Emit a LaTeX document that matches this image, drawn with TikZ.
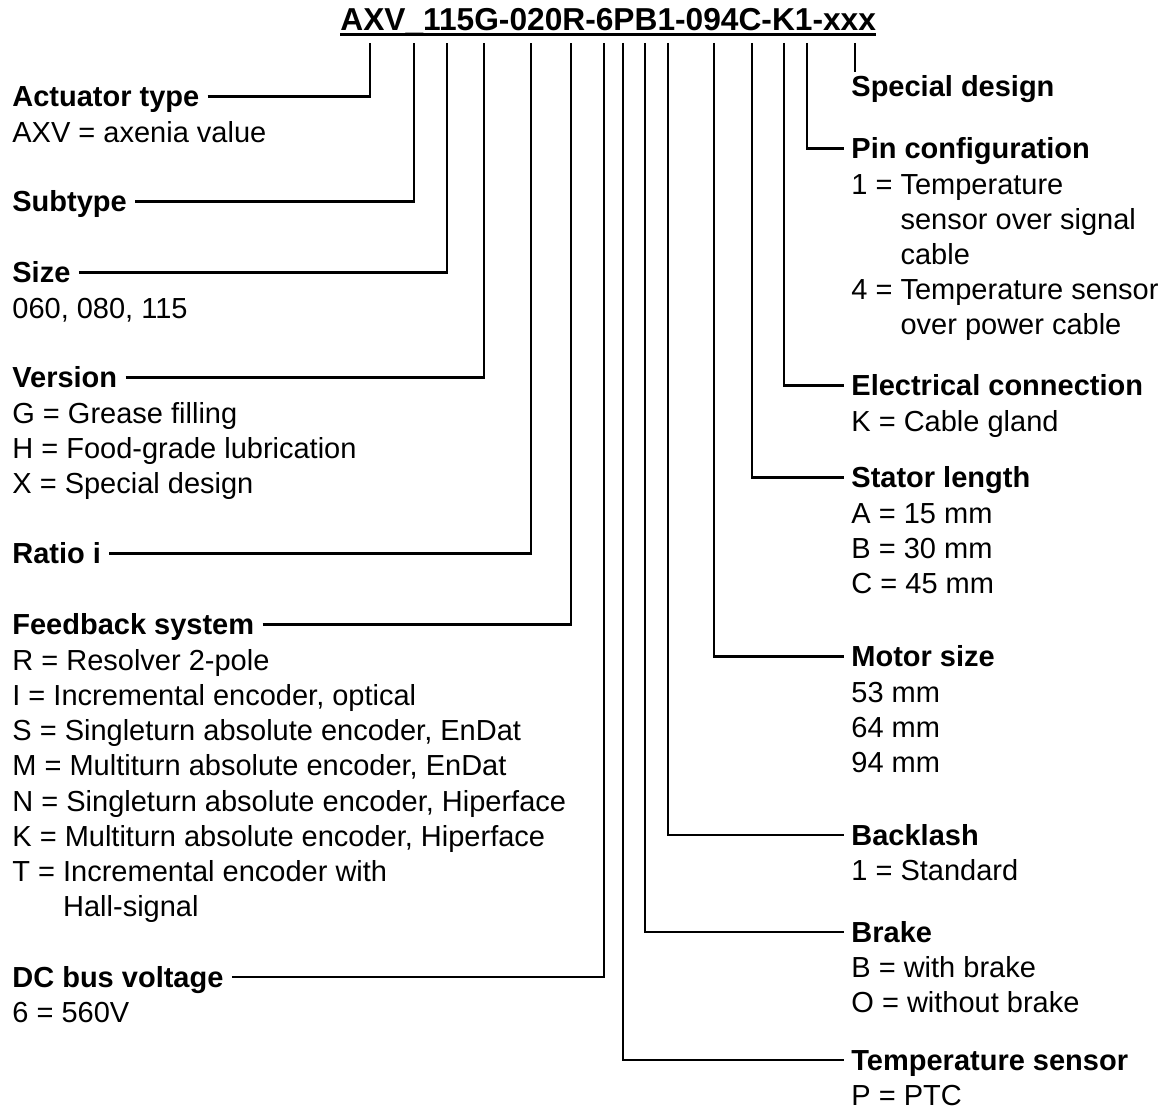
\documentclass[tikz,border=0pt]{standalone}
\usepackage{fontspec}
\setmainfont{Liberation Sans}

\tikzset{
  head/.style={font=\fontsize{14.5pt}{17.6pt}\selectfont\bfseries,inner sep=0pt,
    text height=10.4pt,text depth=0pt,anchor=base west},
  body/.style={font=\fontsize{14.5pt}{17.6pt}\selectfont,inner sep=0pt,
    align=left,anchor=base west},
  lead/.style={line width=1.1pt}
}

\begin{document}
\begin{tikzpicture}[x=.5pt,y=-.5pt]
  \useasboundingbox (0,0) rectangle (1167,1111);
  \node[font=\fontsize{15.85pt}{19pt}\selectfont\bfseries,inner sep=0pt,anchor=base west]
    (code) at (340,31) {AXV\_115G-020R-6PB1-094C-K1-xxx};
  \draw[lead] ([yshift=-1.8pt]code.base west) -- ([yshift=-1.8pt]code.base east);
  \foreach \n/\x in {act/370,sub/414,size/447,ver/484,ratio/531,fb/571,dc/604,
      temp/623,brake/645,back/668,motor/714,stator/752,elec/784,pin/807,spec/855}
    \coordinate (t\n) at (\x,43);

  % left column (body nodes sit on the baseline of their last line)
  \node[head] (act) at (12,107) {Actuator type};
  \node[body] (actb) at (12,142.2) {AXV = axenia value};
  \node[head] (sub) at (12,212) {Subtype};
  \node[head] (size) at (12,283) {Size};
  \node[body] (sizeb) at (12,318.2) {060, 080, 115};
  \node[head] (ver) at (12,388) {Version};
  \node[body] (verb) at (12,493.6) {G = Grease filling\\H = Food-grade lubrication\\X = Special design};
  \node[head] (ratio) at (12,564) {Ratio i};
  \node[head] (fb) at (12,635) {Feedback system};
  \node[body] (fbb) at (12,916.6) {R = Resolver 2-pole\\I = Incremental encoder, optical\\
    S = Singleturn absolute encoder, EnDat\\M = Multiturn absolute encoder, EnDat\\
    N = Singleturn absolute encoder, Hiperface\\K = Multiturn absolute encoder, Hiperface\\
    T = Incremental encoder with\\\hphantom{T = }Hall-signal};
  \node[head] (dc) at (12,987) {DC bus voltage};
  \node[body] (dcb) at (12,1022.2) {6 = 560V};

  % right column
  \node[head] (spec) at (851,97) {Special design};
  \node[head] (pin) at (851,159) {Pin configuration};
  \node[body] (pinb) at (851,335) {1 = Temperature\\\hphantom{1 = }sensor over signal\\
    \hphantom{1 = }cable\\4 = Temperature sensor\\\hphantom{4 = }over power cable};
  \node[head] (elec) at (851,396) {Electrical connection};
  \node[body] (elecb) at (851,431.2) {K = Cable gland};
  \node[head] (stator) at (851,488) {Stator length};
  \node[body] (statorb) at (851,593.6) {A = 15 mm\\B = 30 mm\\C = 45 mm};
  \node[head] (motor) at (851,667) {Motor size};
  \node[body] (motorb) at (851,772.6) {53 mm\\64 mm\\94 mm};
  \node[head] (back) at (851,845) {Backlash};
  \node[body] (backb) at (851,880.2) {1 = Standard};
  \node[head] (brake) at (851,942) {Brake};
  \node[body] (brakeb) at (851,1012.4) {B = with brake\\O = without brake};
  \node[head] (temp) at (851,1070) {Temperature sensor};
  \node[body] (tempb) at (851,1105.2) {P = PTC};

  % leads
  \foreach \n in {act,sub,size,ver,ratio,fb,dc}
    \draw[lead] ([xshift=4pt]\n.east) -| (t\n);
  \foreach \n in {pin,elec,stator,motor,back,brake,temp}
    \draw[lead] (t\n) |- ([xshift=-3.5pt]\n.west);
  \draw[lead] (tspec) -- ([yshift=2pt]tspec |- spec.north);
\end{tikzpicture}
\end{document}
